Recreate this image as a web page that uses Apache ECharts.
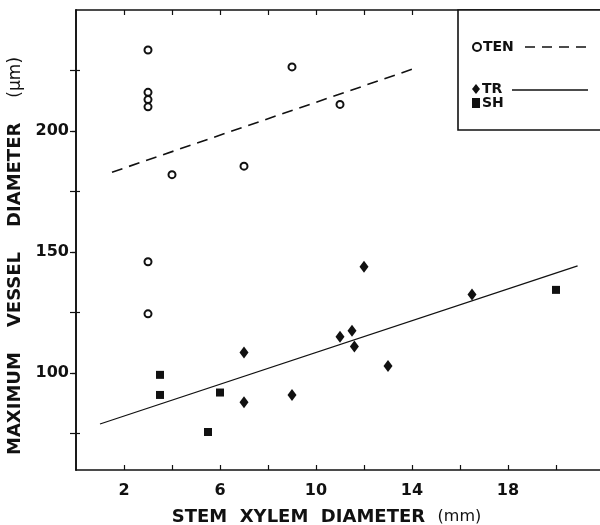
<!DOCTYPE html>
<html>
<head>
<meta charset="utf-8">
<script src="https://cdn.jsdelivr.net/npm/echarts@6/dist/echarts.min.js"></script>
<style>
  html, body { margin: 0; background: #fff; }
  #chart { width: 600px; height: 525px; }
</style>
</head>
<body>
<div id="chart"></div>
<script>
// TEN (open circles)
const tenX = [3, 3, 3, 3, 3, 3, 4, 7, 9, 11];
const tenY = [233.5, 216, 213, 210, 146, 124.5, 182, 185.5, 226.5, 211];
// TR (diamonds)
const trX = [7, 7, 9, 11, 11.5, 11.6, 12, 13, 16.5];
const trY = [108.5, 88, 91, 115, 117.5, 111, 144, 103, 132.5];
// SH (squares)
const shX = [3.5, 3.5, 6, 5.5, 20];
const shY = [99.3, 91, 92, 75.7, 134.4];

// fitted lines, end points
const tenFitX = [1.5, 14];
const tenFitY = [183, 225.5];
const trFitX = [1, 20.9];
const trFitY = [79, 144.3];

// axis ticks / labels
const xLabels = [2, 6, 10, 14, 18];
const xTicks = [2, 4, 6, 8, 10, 12, 14, 16, 18, 20];
const yLabels = [100, 150, 200];
const yMinor = [75, 125, 175, 225];

const ink = '#111';
const font = 'DejaVu Sans';

const zip = (xs, ys) => xs.map((x, i) => [x, ys[i]]);

const chart = echarts.init(document.getElementById('chart'));

// plot box: left 76, right edge just past the canvas (604)
const gridLeft = 76;
const gridRight = -4;
const plotWidth = 600 - gridLeft - gridRight;

const option = {
  backgroundColor: '#fff',
  animation: false,
  grid: { left: gridLeft, right: gridRight, top: 10, bottom: 55, outerBoundsMode: 'none', containLabel: false },
  xAxis: [
    {
      type: 'value', min: 0, max: 22, position: 'bottom',
      axisLine: { show: true, lineStyle: { color: ink, width: 1.6 } },
      axisTick: { show: true, inside: true, length: 5, customValues: xTicks, lineStyle: { color: ink, width: 1.2 } },
      axisLabel: { customValues: xLabels, margin: 13, color: ink, fontFamily: font, fontWeight: 'bold', fontSize: 16 },
      splitLine: { show: false },
      name: 'STEM  XYLEM  DIAMETER  {u|(mm)}',
      nameLocation: 'middle', nameGap: 38,
      nameTextStyle: {
        color: ink, fontFamily: font, fontWeight: 'bold', fontSize: 18, padding: [0, 27, 0, 0],
        rich: { u: { fontFamily: font, fontSize: 16, color: ink, fontWeight: 'normal' } }
      }
    },
    {
      type: 'value', min: 0, max: 22, position: 'top',
      axisLine: { show: true, lineStyle: { color: ink, width: 1.6 } },
      axisTick: { show: true, inside: true, length: 5, customValues: xTicks, lineStyle: { color: ink, width: 1.2 } },
      axisLabel: { show: false },
      splitLine: { show: false }
    }
  ],
  yAxis: [
    {
      type: 'value', min: 60, max: 250, position: 'left',
      axisLine: { show: true, lineStyle: { color: ink, width: 1.6 } },
      axisTick: { show: true, length: 4, customValues: yLabels, lineStyle: { color: ink, width: 1.2 } },
      axisLabel: { customValues: yLabels, margin: 7, color: ink, fontFamily: font, fontWeight: 'bold', fontSize: 16 },
      splitLine: { show: false },
      name: 'MAXIMUM    VESSEL    DIAMETER    {u|(μm)}',
      nameLocation: 'middle', nameRotate: 90, nameGap: 47,
      nameTextStyle: {
        color: ink, fontFamily: font, fontWeight: 'bold', fontSize: 18, padding: [0, 32, 0, 0],
        rich: { u: { fontFamily: font, fontSize: 17, color: ink, fontWeight: 'normal' } }
      }
    },
    {
      type: 'value', min: 60, max: 250, position: 'right',
      axisLine: { show: true, lineStyle: { color: ink, width: 1.6 } },
      axisTick: { show: true, inside: true, length: 6, customValues: yMinor.concat(yLabels), lineStyle: { color: ink, width: 1.2 } },
      axisLabel: { show: false },
      splitLine: { show: false }
    },
    {
      // minor ticks on the left frame, pointing into the plot
      type: 'value', min: 60, max: 250, position: 'right', offset: -plotWidth,
      axisLine: { show: false },
      axisTick: { show: true, length: 4, customValues: yMinor, lineStyle: { color: ink, width: 1.2 } },
      axisLabel: { show: false },
      splitLine: { show: false }
    }
  ],
  legend: [
    {
      data: ['TEN'], orient: 'vertical', left: 472, top: 40, z: 10,
      itemWidth: 8, itemHeight: 8, padding: 0,
      textStyle: { color: ink, fontFamily: font, fontWeight: 'bold', fontSize: 14, padding: [0, 0, 0, -3] }
    },
    {
      data: ['TR', 'SH'], orient: 'vertical', left: 472, top: 82, z: 10,
      itemWidth: 8, itemHeight: 10, itemGap: 0, padding: 0,
      textStyle: { color: ink, fontFamily: font, fontWeight: 'bold', fontSize: 14, padding: [0, 0, 0, -3] }
    }
  ],
  graphic: [
    { type: 'rect', z: 5, shape: { x: 458, y: 10, width: 160, height: 120 },
      style: { fill: '#fff', stroke: ink, lineWidth: 1.6 } },
    { type: 'line', z: 6, shape: { x1: 525, y1: 47, x2: 588, y2: 47 },
      style: { stroke: ink, lineWidth: 1.6, lineDash: [10, 7] } },
    { type: 'line', z: 6, shape: { x1: 512, y1: 90, x2: 588, y2: 90 },
      style: { stroke: ink, lineWidth: 1.5 } }
  ],
  series: [
    {
      name: 'TEN fit', type: 'line', data: zip(tenFitX, tenFitY),
      showSymbol: false, symbol: 'none', z: 1,
      lineStyle: { color: ink, width: 1.6, type: [11, 7] }
    },
    {
      name: 'TR fit', type: 'line', data: zip(trFitX, trFitY),
      showSymbol: false, symbol: 'none', z: 1,
      lineStyle: { color: ink, width: 1.3 }
    },
    {
      name: 'TEN', type: 'scatter', data: zip(tenX, tenY),
      symbol: 'emptyCircle', symbolSize: 7,
      itemStyle: { color: ink, borderColor: ink, borderWidth: 1.7, opacity: 1 }
    },
    {
      name: 'TR', type: 'scatter', data: zip(trX, trY),
      symbol: 'diamond', symbolSize: [9, 12],
      itemStyle: { color: ink, opacity: 1 }
    },
    {
      name: 'SH', type: 'scatter', data: zip(shX, shY),
      symbol: 'rect', symbolSize: 8,
      itemStyle: { color: ink, opacity: 1 }
    }
  ]
};

chart.setOption(option);
</script>
</body>
</html>
